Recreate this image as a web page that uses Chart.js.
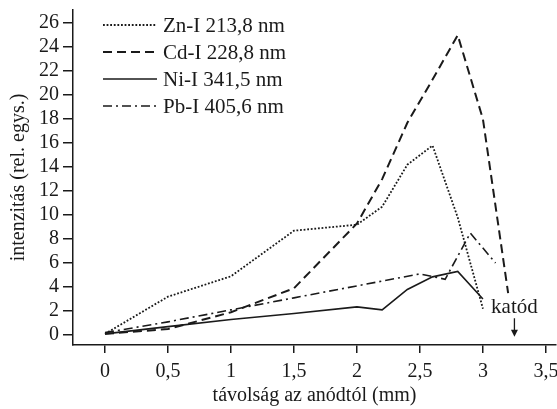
<!DOCTYPE html>
<html>
<head>
<meta charset="utf-8">
<script src="https://cdn.jsdelivr.net/npm/chart.js@4"></script>
<style>
  html, body { margin: 0; padding: 0; background: #fff; }
  #wrap { width: 557px; height: 409px; }
</style>
</head>
<body>
<div id="wrap"><canvas id="chart"></canvas></div>
<script>
// távolság (mm) és intenzitás értékek, sorozatonként
const znX = [0, 0.5, 1, 1.5, 2, 2.2, 2.4, 2.6, 2.8, 3.0];
const znY = [0.1, 3.2, 4.9, 8.7, 9.2, 10.7, 14.2, 15.8, 9.8, 2.2];

const cdX = [0, 0.5, 1, 1.5, 2, 2.2, 2.4, 2.6, 2.8, 3.0, 3.2];
const cdY = [0.1, 0.5, 1.9, 3.9, 9.3, 13.0, 17.7, 21.3, 25.0, 18.0, 3.5];

const niX = [0, 0.5, 1, 1.5, 2, 2.2, 2.4, 2.6, 2.8, 3.0];
const niY = [0.1, 0.7, 1.3, 1.8, 2.35, 2.1, 3.8, 4.85, 5.3, 3.0];

const pbX = [0, 0.5, 1, 1.5, 2, 2.5, 2.7, 2.9, 3.1];
const pbY = [0.2, 1.1, 2.1, 3.1, 4.1, 5.1, 4.65, 8.5, 6.0];

const seriesNames = ['Zn-I 213,8 nm', 'Cd-I 228,8 nm', 'Ni-I 341,5 nm', 'Pb-I 405,6 nm'];
const xTicks = [0, 0.5, 1, 1.5, 2, 2.5, 3, 3.5];
const yTicks = [0, 2, 4, 6, 8, 10, 12, 14, 16, 18, 20, 22, 24, 26];

const katodLabel = 'katód';
const katodX = 3.25;

const ink = '#1a1a1a';
const serif = "'Liberation Serif', 'DejaVu Serif', serif";

const styles = [
    { borderDash: [1.8, 1.8], borderWidth: 1.8 },
    { borderDash: [9, 5], borderWidth: 2 },
    { borderDash: [], borderWidth: 1.6 },
    { borderDash: [9, 4, 2, 4], borderWidth: 1.6 }
];

function toPoints(xs, ys) {
    return xs.map((x, i) => ({ x: x, y: ys[i] }));
}

const allData = [toPoints(znX, znY), toPoints(cdX, cdY), toPoints(niX, niY), toPoints(pbX, pbY)];

const legendAndLabel = {
    id: 'legendAndLabel',
    afterDraw(chart) {
        const ctx = chart.ctx;
        ctx.save();
        // jelmagyarázat a bal felső sarokban
        seriesNames.forEach((name, i) => {
            const y = 25 + i * 27;
            ctx.strokeStyle = ink;
            ctx.lineWidth = styles[i].borderWidth;
            ctx.setLineDash(styles[i].borderDash);
            ctx.beginPath();
            ctx.moveTo(103, y);
            ctx.lineTo(157, y);
            ctx.stroke();
            ctx.setLineDash([]);
            ctx.fillStyle = ink;
            ctx.font = '21px ' + serif;
            ctx.textAlign = 'left';
            ctx.textBaseline = 'middle';
            ctx.fillText(name, 163, y + 1);
        });

        // katód felirat és nyíl
        const xs = chart.scales.x, ys = chart.scales.y;
        const px = xs.getPixelForValue(katodX);
        ctx.font = '21px ' + serif;
        ctx.textAlign = 'center';
        ctx.textBaseline = 'middle';
        ctx.fillText(katodLabel, px, ys.getPixelForValue(2.3));
        const top = ys.getPixelForValue(1.4);
        const tip = ys.getPixelForValue(-0.15);
        ctx.lineWidth = 1.3;
        ctx.beginPath();
        ctx.moveTo(px, top);
        ctx.lineTo(px, tip - 5);
        ctx.stroke();
        ctx.beginPath();
        ctx.moveTo(px - 3.5, tip - 7);
        ctx.lineTo(px + 3.5, tip - 7);
        ctx.lineTo(px, tip);
        ctx.closePath();
        ctx.fill();
        ctx.restore();
    }
};

new Chart(document.getElementById('chart'), {
    type: 'line',
    data: {
        datasets: allData.map((pts, i) => ({
            label: seriesNames[i],
            data: pts,
            borderColor: ink,
            borderWidth: styles[i].borderWidth,
            borderDash: styles[i].borderDash,
            pointRadius: 0,
            tension: 0,
            fill: false
        }))
    },
    options: {
        responsive: true,
        maintainAspectRatio: false,
        animation: false,
        layout: { padding: { top: 10, right: 1, left: 0, bottom: 0 } },
        plugins: { legend: { display: false }, tooltip: { enabled: false } },
        scales: {
            x: {
                type: 'linear',
                min: -0.254,
                max: 3.58,
                afterBuildTicks: s => { s.ticks = xTicks.map(v => ({ value: v })); },
                afterFit: s => { s.height = 64; s.paddingLeft = 0; s.paddingRight = 0; },
                grid: { drawOnChartArea: false, drawTicks: true, tickLength: 8, color: ink, lineWidth: 1.5 },
                border: { display: true, color: ink, width: 1.5 },
                ticks: {
                    color: ink,
                    padding: 7,
                    maxRotation: 0,
                    autoSkip: false,
                    font: { family: serif, size: 20 },
                    callback: v => String(v).replace('.', ',')
                },
                title: {
                    display: true,
                    text: 'távolság az anódtól (mm)',
                    color: ink,
                    font: { family: serif, size: 20 },
                    padding: { top: 0, bottom: 1 }
                }
            },
            y: {
                type: 'linear',
                min: -0.83,
                max: 27.1,
                afterBuildTicks: s => { s.ticks = yTicks.map(v => ({ value: v })); },
                afterFit: s => { s.width = 73; s.paddingTop = 0; s.paddingBottom = 0; },
                grid: { drawOnChartArea: false, drawTicks: true, tickLength: 10, color: ink, lineWidth: 1.5 },
                border: { display: true, color: ink, width: 1.5 },
                ticks: {
                    color: ink,
                    padding: 4,
                    autoSkip: false,
                    font: { family: serif, size: 20 }
                },
                title: {
                    display: true,
                    text: 'intenzitás (rel. egys.)',
                    color: ink,
                    font: { family: serif, size: 20 },
                    padding: { top: 7, bottom: 0 }
                }
            }
        }
    },
    plugins: [legendAndLabel]
});
</script>
</body>
</html>
